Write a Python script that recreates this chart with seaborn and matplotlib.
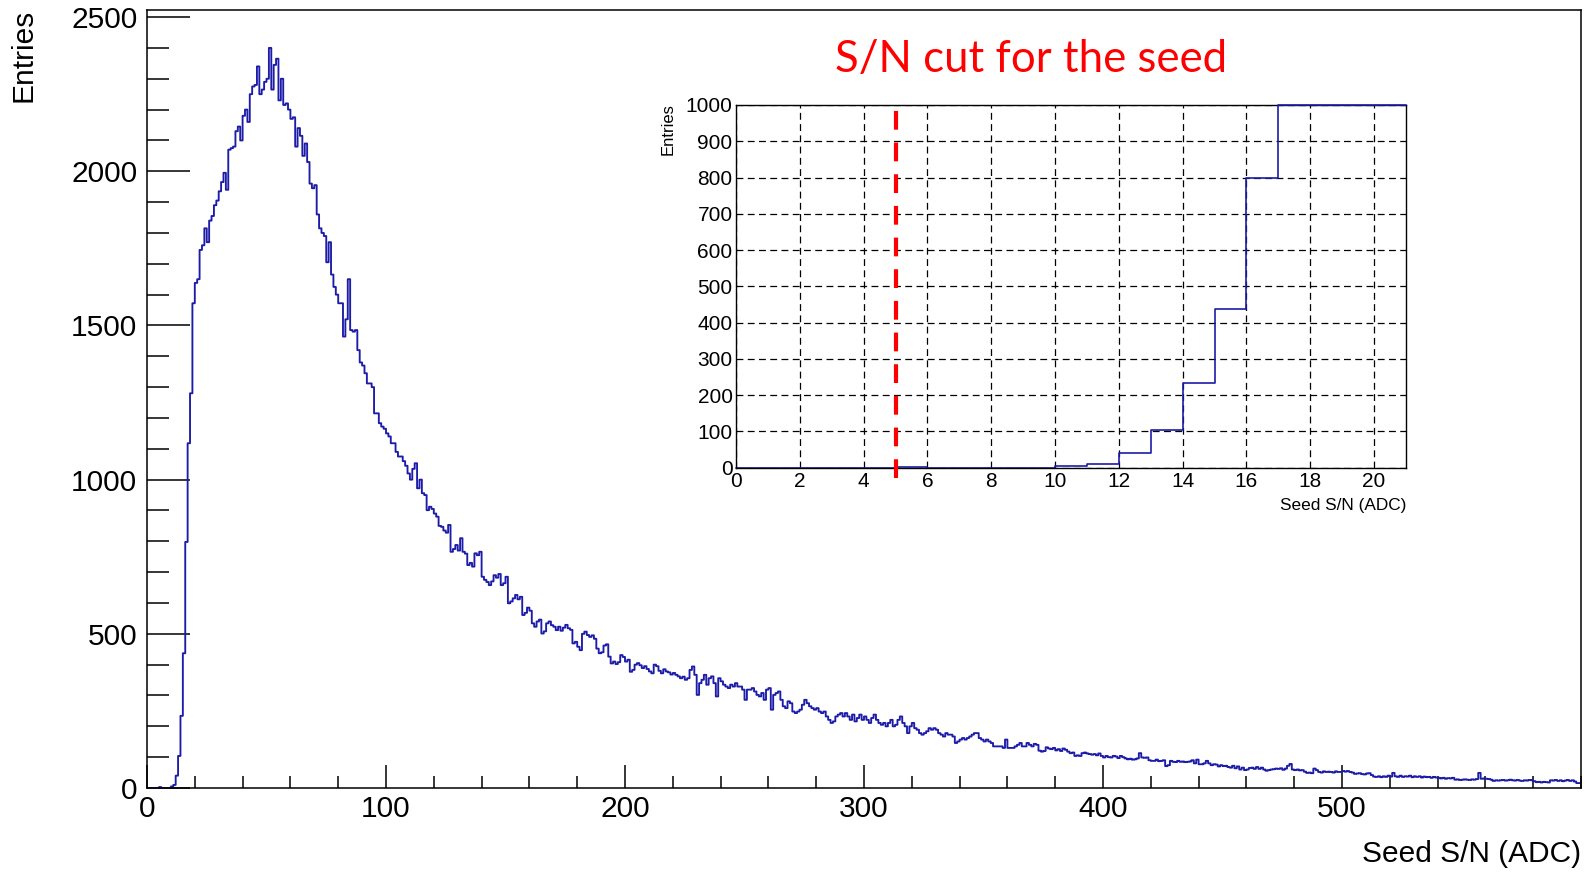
import numpy as np
import pandas as pd
import matplotlib
matplotlib.use("Agg")
import matplotlib.pyplot as plt
from matplotlib.ticker import MultipleLocator
import seaborn as sns

sns.set_theme(style="white")
plt.rcParams['font.family'] = ['Liberation Sans', 'DejaVu Sans']
plt.rcParams.update({'text.color': 'black', 'axes.labelcolor': 'black',
                     'xtick.color': 'black', 'ytick.color': 'black',
                     'axes.edgecolor': 'black'})

# ---------------- data: entries per 1-ADC bin, bins 0..599 ----------------
counts = [
    0, 0, 0, 0, 0, 3, 0, 0, 0, 0,
    5, 10, 40, 104, 234, 437, 798, 1118, 1280, 1572,
    1638, 1650, 1745, 1760, 1815, 1770, 1840, 1855, 1890, 1905,
    1935, 1965, 1995, 1940, 2070, 2075, 2080, 2130, 2145, 2100,
    2180, 2200, 2160, 2250, 2275, 2280, 2340, 2250, 2265, 2290,
    2300, 2400, 2265, 2345, 2365, 2230, 2300, 2215, 2220, 2200,
    2170, 2175, 2080, 2140, 2115, 2050, 2090, 2030, 1960, 1945,
    1955, 1860, 1815, 1800, 1790, 1705, 1770, 1665, 1625, 1600,
    1572, 1572, 1464, 1520, 1650, 1485, 1480, 1485, 1420, 1380,
    1370, 1345, 1312, 1312, 1300, 1215, 1215, 1183, 1172, 1165,
    1150, 1140, 1118, 1118, 1090, 1075, 1075, 1060, 1045, 1020,
    1000, 1035, 1053, 972, 1000, 956, 950, 901, 912, 905,
    890, 880, 850, 847, 835, 828, 853, 766, 775, 788,
    770, 810, 766, 760, 723, 730, 718, 761, 755, 766,
    685, 675, 668, 658, 670, 690, 682, 694, 658, 664,
    685, 599, 605, 615, 626, 612, 620, 561, 568, 585,
    575, 534, 523, 540, 546, 501, 508, 534, 540, 528,
    523, 512, 523, 510, 520, 529, 518, 513, 469, 474,
    458, 447, 500, 507, 496, 490, 495, 484, 452, 437,
    440, 462, 466, 426, 404, 410, 402, 408, 431, 425,
    410, 416, 377, 383, 400, 405, 398, 389, 395, 386,
    378, 372, 400, 395, 380, 372, 385, 378, 375, 368,
    373, 367, 362, 356, 361, 351, 356, 383, 394, 367,
    302, 340, 351, 367, 335, 356, 362, 340, 297, 356,
    346, 335, 329, 324, 335, 329, 340, 329, 329, 319,
    286, 319, 319, 324, 313, 302, 297, 308, 286, 319,
    324, 254, 302, 308, 313, 286, 265, 259, 281, 275,
    248, 243, 248, 254, 270, 286, 275, 265, 259, 254,
    259, 248, 243, 248, 232, 221, 211, 216, 232, 238,
    243, 232, 243, 232, 221, 238, 216, 227, 238, 221,
    232, 221, 211, 227, 238, 221, 211, 205, 211, 200,
    211, 221, 200, 205, 221, 232, 211, 200, 178, 200,
    211, 194, 189, 178, 173, 178, 184, 194, 189, 194,
    189, 178, 173, 167, 178, 173, 173, 167, 146, 151,
    157, 162, 157, 162, 167, 173, 178, 178, 162, 157,
    151, 157, 151, 146, 135, 135, 135, 135, 130, 157,
    130, 130, 130, 135, 140, 146, 135, 135, 146, 140,
    135, 143, 140, 121, 118, 120, 132, 128, 126, 130,
    122, 126, 120, 128, 124, 118, 113, 115, 104, 106,
    104, 113, 115, 112, 110, 108, 110, 106, 112, 104,
    99, 104, 100, 99, 104, 102, 97, 104, 100, 96,
    93, 95, 92, 93, 96, 113, 99, 98, 99, 90,
    88, 88, 92, 87, 88, 90, 71, 74, 88, 85,
    84, 88, 85, 86, 84, 85, 86, 90, 80, 92,
    77, 77, 80, 88, 80, 74, 77, 76, 70, 74,
    71, 72, 68, 66, 72, 64, 70, 60, 66, 58,
    60, 65, 66, 62, 68, 62, 66, 60, 56, 58,
    60, 61, 63, 62, 64, 59, 63, 72, 78, 60,
    58, 60, 57, 58, 53, 49, 50, 48, 63, 58,
    52, 50, 54, 52, 53, 52, 50, 54, 52, 52,
    55, 53, 55, 52, 50, 46, 47, 48, 45, 44,
    47, 48, 42, 37, 36, 38, 35, 38, 36, 40,
    37, 49, 38, 36, 40, 36, 38, 37, 40, 35,
    38, 36, 38, 34, 37, 35, 36, 33, 36, 34,
    33, 31, 33, 30, 32, 31, 33, 27, 28, 26,
    27, 28, 27, 26, 28, 27, 29, 49, 30, 31,
    30, 29, 27, 23, 25, 24, 25, 26, 24, 25,
    27, 25, 24, 26, 24, 23, 25, 24, 26, 25,
    22, 19, 20, 18, 20, 19, 18, 25, 24, 26,
    23, 25, 22, 24, 26, 23, 25, 21, 16, 16,
]

bin_edges = list(range(len(counts) + 1))
bin_centers = [e + 0.5 for e in bin_edges[:-1]]

inset_nbins = 21
inset_max = 1000
cut_value = 5

main_xticks = [0, 100, 200, 300, 400, 500]
main_yticks = [0, 500, 1000, 1500, 2000, 2500]
xlabel_text = "Seed S/N (ADC)"
ylabel_text = "Entries"
annotation_text = "S/N cut for the seed"

LINE = "#1c1ca8"

df = pd.DataFrame({"sn": bin_centers, "entries": counts})
df_in = pd.DataFrame({"sn": bin_centers[:inset_nbins],
                      "entries": np.clip(np.array(counts[:inset_nbins]), 0, inset_max)})

W, H = 1594, 872
fig = plt.figure(figsize=(W / 100, H / 100), dpi=100)

# ---------------- main histogram ----------------
ax = fig.add_axes([147 / W, 1 - 788 / H, (1581 - 147) / W, (788 - 10) / H])
sns.histplot(data=df, x="sn", weights="entries", bins=bin_edges, element="step",
             fill=False, color=LINE, linewidth=1.35, ax=ax)
ax.set_xlim(0, 600)
ax.set_ylim(0, 2523)
ax.set_xlabel("")
ax.set_ylabel("")
ax.set_xticks(main_xticks)
ax.set_yticks(main_yticks)
ax.xaxis.set_minor_locator(MultipleLocator(20))
ax.yaxis.set_minor_locator(MultipleLocator(100))
ax.tick_params(axis='x', which='major', direction='in', length=16.5, width=1.1,
               labelsize=21.5, pad=5, top=False, bottom=True)
ax.tick_params(axis='x', which='minor', direction='in', length=8.5, width=1.1,
               top=False, bottom=True)
ax.tick_params(axis='y', which='major', direction='in', length=31, width=1.1,
               labelsize=21.5, pad=7, right=False, left=True)
ax.tick_params(axis='y', which='minor', direction='in', length=16, width=1.1,
               right=False, left=True)
for s in ax.spines.values():
    s.set_color('black')
    s.set_linewidth(1.1)

fig.text(24 / W, 1 - 9 / H, ylabel_text, rotation=90, ha='center', va='top', fontsize=21.5)
fig.text(1581 / W, 1 - 854 / H, xlabel_text, ha='right', va='center', fontsize=21.5)

# ---------------- inset ----------------
axin = fig.add_axes([736 / W, 1 - 467.7 / H, (1406 - 736) / W, (467.7 - 105) / H])
sns.histplot(data=df_in, x="sn", weights="entries",
             bins=bin_edges[:inset_nbins + 1], element="step", fill=False,
             color=LINE, linewidth=1.2, ax=axin)
for ln in axin.lines:
    ln.set_clip_on(False)
    ln.set_zorder(4)
axin.set_xlim(0, inset_nbins)
axin.set_ylim(0, inset_max)
axin.set_xlabel("")
axin.set_ylabel("")
axin.xaxis.set_major_locator(MultipleLocator(2))
axin.xaxis.set_minor_locator(MultipleLocator(0.5))
axin.yaxis.set_major_locator(MultipleLocator(100))
axin.yaxis.set_minor_locator(MultipleLocator(10))
axin.tick_params(axis='x', which='major', direction='in', length=7, width=0.9,
                 labelsize=15, pad=3, top=False)
axin.tick_params(axis='x', which='minor', direction='in', length=3.5, width=0.9, top=False)
axin.tick_params(axis='y', which='major', direction='in', length=13, width=0.9,
                 labelsize=15, pad=2.5, right=False)
axin.tick_params(axis='y', which='minor', direction='in', length=7.5, width=0.9, right=False)
axin.grid(True, which='major', color='black', linewidth=0.9, linestyle=(0, (5.5, 3.5)))
axin.set_axisbelow(False)
for s in axin.spines.values():
    s.set_color('black')
    s.set_linewidth(1.0)
axin.spines['bottom'].set_zorder(5)
axin.spines['left'].set_zorder(5)

fig.text(668 / W, 1 - 103 / H, ylabel_text, rotation=90, ha='center', va='top', fontsize=12)
fig.text(1406 / W, 1 - 505 / H, xlabel_text, ha='right', va='center', fontsize=12.4)

# cut line
axin.axvline(cut_value, ymin=-0.028, ymax=1.009, clip_on=False, color='#FF0000',
             linewidth=3, dashes=(4.5, 3.1), zorder=6)

fig.text(1031 / W, 1 - 59 / H, annotation_text, color='#FF0000', ha='center',
         va='center', fontsize=31.5, family=['Lato', 'DejaVu Sans'])

fig.savefig("out.png", dpi=100)
